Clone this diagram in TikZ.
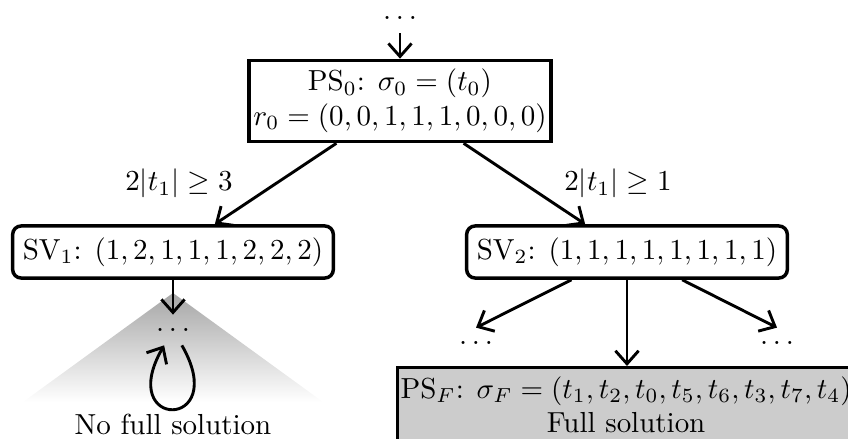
\documentclass[tikz,border=0pt]{standalone}
\usetikzlibrary{arrows.meta,positioning}
\begin{document}
\begin{tikzpicture}[x=0.345pt, y=-0.345pt,
    arr/.style={-{Straight Barb[length=4.5pt,width=8pt]}, line width=1pt},
    psbox/.style={rectangle, draw, line width=1.2pt, align=center, inner xsep=1.5pt, inner ysep=3pt},
    svbox/.style={rectangle, draw, line width=1.2pt, rounded corners=3pt, inner xsep=3.5pt, inner ysep=4pt},
    dotnode/.style={text height=1.2pt, text depth=0pt, inner sep=4.5pt}]
    \useasboundingbox (0,0) rectangle (848,439);

    % cone under the first vector
    \shade[top color=black!35, bottom color=white] (173,293) -- (23,402) -- (323,402) -- cycle;

    \node[dotnode] (top) at (400,18) {$\dots$};
    \node[psbox] (ps0) at (400,101) {PS$_0$: $\sigma_0=(t_0)$\\ $r_0=(0,0,1,1,1,0,0,0)$};
    \node[svbox] (sv1) at (173,252) {SV$_1$: $(1,2,1,1,1,2,2,2)$};
    \node[svbox] (sv2) at (627,252) {SV$_2$: $(1,1,1,1,1,1,1,1)$};
    \node[dotnode] (dots1) at (173,330) {$\dots$};
    \node (nofull) at (173,424) {No full solution};
    \node[dotnode] (dots2) at (476,343) {$\dots$};
    \node[dotnode] (dots3) at (777,343) {$\dots$};
    \node[psbox, fill=black!20, anchor=north west, inner xsep=1pt] (psf) at (396,366)
        {PS$_F$: $\sigma_F=(t_1,t_2,t_0,t_5,t_6,t_3,t_7,t_4)$\\ Full solution};

    \draw[arr] (top) -- (ps0);
    \draw[arr] (ps0) -- node[midway, left=11pt] {$2|t_1|\geq 3$} (sv1);
    \draw[arr] (ps0) -- node[midway, right=10pt] {$2|t_1|\geq 1$} (sv2);
    \draw[arr] (sv1) -- (dots1);
    \draw[arr] (dots1) to[out=-60, in=-120, min distance=34pt] (dots1);
    \draw[arr] (sv2) -- (dots2.north);
    \draw[arr] (sv2) -- (dots3.north);
    \draw[arr] (sv2) -- (sv2 |- psf.north);
\end{tikzpicture}
\end{document}
